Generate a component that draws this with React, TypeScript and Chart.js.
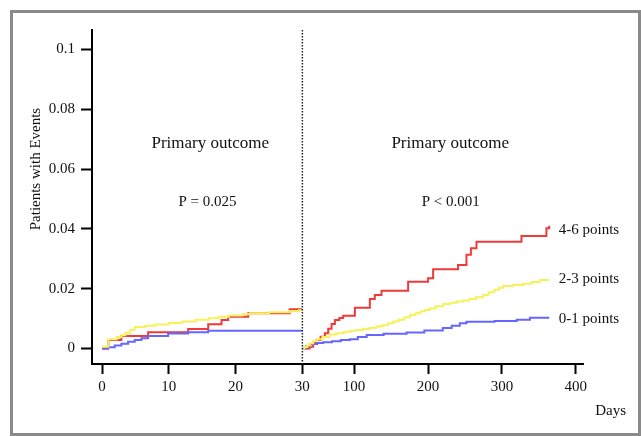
import React, { useEffect, useRef } from 'react';
import { Chart, registerables } from 'chart.js';

Chart.register(...registerables);

// ---- data (cumulative proportion of patients with events) ----
const groupLabels = ['4-6 points', '2-3 points', '0-1 points'];

// first 30 days
const early46Days = [0, 0.95, 2.9, 6.9, 12.9, 15.9, 17.9, 18.9, 21.9, 28.1, 30];
const early46 = [0, 0.0028, 0.0042, 0.0054, 0.0065, 0.0081, 0.0095, 0.0106, 0.0118, 0.0131, 0.0131];

const early23Days = [0, 0.95, 2.2, 2.9, 3.5, 4.2, 4.9, 6.5, 8, 10, 12, 14, 16, 17.5, 19, 21, 22.2, 25, 28.1, 29.5, 30];
const early23 = [0.0006, 0.0031, 0.0038, 0.0044, 0.0052, 0.0062, 0.0072, 0.0076, 0.008, 0.0085, 0.009, 0.0096, 0.0101, 0.0106, 0.011, 0.0114, 0.0118, 0.0121, 0.0125, 0.0128, 0.0128];

const early01Days = [0, 0.9, 1.9, 2.9, 3.9, 4.9, 5.9, 6.9, 9.9, 12.9, 15.9, 30];
const early01 = [0, 0.0004, 0.001, 0.0016, 0.0022, 0.0028, 0.0034, 0.0042, 0.005, 0.0054, 0.0059, 0.0059];

// day 30 to one year
const late46Days = [30, 40, 44.6, 49.2, 54.6, 60.4, 65, 69.5, 74, 80, 85.2, 101, 121.3, 128, 137.1, 173.1, 200.1, 206.9, 240.7, 252, 258, 265.6, 326.4, 360.2, 364];
const late46 = [0, 0.0006, 0.0017, 0.0028, 0.0039, 0.0051, 0.0066, 0.0082, 0.0095, 0.0102, 0.0109, 0.0136, 0.0165, 0.0179, 0.0193, 0.0223, 0.0235, 0.0265, 0.0279, 0.0313, 0.0335, 0.0357, 0.0376, 0.0402, 0.041];

const late23Days = [30, 33, 36, 40, 44.6, 50, 57, 67, 76, 86, 95, 103, 112, 121, 130, 138, 146, 153, 160, 168, 175.5, 183, 190, 196, 202.5, 210, 220.5, 230, 239, 247.6, 256, 265, 274.7, 282, 290, 296, 301.7, 315, 328.8, 340, 351.4, 364];
const late23 = [0, 0.0005, 0.001, 0.0017, 0.0025, 0.0031, 0.0038, 0.0047, 0.0051, 0.0056, 0.0059, 0.0062, 0.0065, 0.0068, 0.0073, 0.0078, 0.0084, 0.009, 0.0096, 0.0104, 0.0112, 0.0118, 0.0124, 0.0129, 0.0134, 0.0141, 0.0149, 0.0153, 0.0157, 0.016, 0.0165, 0.0171, 0.0179, 0.0188, 0.0196, 0.0203, 0.0209, 0.0212, 0.0216, 0.0222, 0.0229, 0.0229];

const late01Days = [30, 35, 40, 50, 58, 70, 82, 94.3, 105, 117, 140, 171, 195, 220, 232, 243, 252, 290, 320, 338, 364];
const late01 = [0, 0.0008, 0.0015, 0.0018, 0.0021, 0.0024, 0.0028, 0.0031, 0.0038, 0.0045, 0.0049, 0.0053, 0.006, 0.0068, 0.0076, 0.0084, 0.0089, 0.0092, 0.0096, 0.0103, 0.0103];

const yTicks = [0, 0.02, 0.04, 0.06, 0.08, 0.1];
const yTickLabels = ['0', '0.02', '0.04', '0.06', '0.08', '0.1'];
const earlyTicks = [0, 10, 20, 30];
const lateTicks = [100, 200, 300, 400];

const panelTitle = 'Primary outcome';
const pEarly = 'P = 0.025';
const pLate = 'P < 0.001';
const yTitle = 'Patients with Events';
const xTitle = 'Days';

const colors = ['#f03a3a', '#f7f25c', '#6666ff'];

export default function App() {
  const ref = useRef<HTMLCanvasElement>(null);

  useEffect(() => {
    const canvas = ref.current;
    if (!canvas) return;
    const serif = '"Liberation Serif", "Times New Roman", serif';

    const mk = (label: string, days: number[], vals: number[], color: string, axis: string) => ({
      label,
      data: days.map((d, i) => ({ x: d, y: vals[i] })),
      xAxisID: axis,
      yAxisID: 'y',
      borderColor: color,
      backgroundColor: color,
      borderWidth: 2,
      pointRadius: 0,
      pointHoverRadius: 0,
      stepped: true,
      fill: false,
    });

    const overlay = {
      id: 'overlay',
      afterDatasetsDraw(chart: any) {
        const { ctx, chartArea } = chart;
        const xL = chart.scales.xL;
        const xR = chart.scales.xR;
        const y = chart.scales.y;
        ctx.save();
        // dotted separator at day 30
        const sx = xL.getPixelForValue(30);
        ctx.strokeStyle = '#222';
        ctx.lineWidth = 1.5;
        ctx.setLineDash([1.5, 1.5]);
        ctx.beginPath();
        ctx.moveTo(sx, chartArea.top);
        ctx.lineTo(sx, chartArea.bottom);
        ctx.stroke();
        ctx.setLineDash([]);

        ctx.fillStyle = '#111';
        ctx.textBaseline = 'middle';
        ctx.textAlign = 'center';
        ctx.font = `17px ${serif}`;
        ctx.fillText(panelTitle, xL.getPixelForValue(16.2), y.getPixelForValue(0.0686));
        ctx.fillText(panelTitle, xR.getPixelForValue(230), y.getPixelForValue(0.0686));
        ctx.font = `15px ${serif}`;
        ctx.fillText(pEarly, xL.getPixelForValue(15.8), y.getPixelForValue(0.0491));
        ctx.fillText(pLate, xR.getPixelForValue(230.8), y.getPixelForValue(0.0491));

        // group labels
        ctx.textAlign = 'left';
        const labelY = [0.0396, 0.0232, 0.0099];
        groupLabels.forEach((g, i) => {
          ctx.fillText(g, xR.getPixelForValue(376.9), y.getPixelForValue(labelY[i]));
        });

        // axis titles
        ctx.textAlign = 'center';
        ctx.fillText(xTitle, xR.getPixelForValue(447), chartArea.bottom + 47);
        ctx.save();
        ctx.font = `15px ${serif}`;
        ctx.translate(chartArea.left - 56, y.getPixelForValue(0.06));
        ctx.rotate(-Math.PI / 2);
        ctx.fillText(yTitle, 0, 0);
        ctx.restore();
        ctx.restore();
      },
    };

    const tickFont = { family: serif, size: 15 };

    const chart = new Chart(canvas, {
      type: 'line',
      data: {
        datasets: [
          mk(groupLabels[1], early23Days, early23, colors[1], 'xL'),
          mk(groupLabels[2], early01Days, early01, colors[2], 'xL'),
          mk(groupLabels[0], early46Days, early46, colors[0], 'xL'),
          mk(groupLabels[1], late23Days, late23, colors[1], 'xR'),
          mk(groupLabels[2], late01Days, late01, colors[2], 'xR'),
          mk(groupLabels[0], late46Days, late46, colors[0], 'xR'),
        ] as any,
      },
      options: {
        responsive: false,
        animation: false,
        events: [],
        layout: { padding: { left: 0, top: 30, right: 58, bottom: 42 } },
        plugins: { legend: { display: false }, tooltip: { enabled: false }, title: { display: false } },
        scales: {
          xL: {
            type: 'linear',
            position: 'bottom',
            stack: 'days',
            stackWeight: 210.5,
            min: -1.5,
            max: 30,
            afterBuildTicks: (s: any) => { s.ticks = earlyTicks.map((v) => ({ value: v })); },
            afterFit: (s: any) => { s.height = 30; },
            border: { display: true, color: '#000', width: 2 },
            grid: { drawOnChartArea: false, drawTicks: true, tickLength: 10, tickWidth: 2, tickColor: '#000', color: '#000' },
            ticks: { font: tickFont, color: '#111', padding: 4, autoSkip: false, maxRotation: 0, minRotation: 0 },
          },
          xR: {
            type: 'linear',
            position: 'bottom',
            stack: 'days',
            stackWeight: 280.8,
            min: 30,
            max: 409.7,
            afterBuildTicks: (s: any) => { s.ticks = lateTicks.map((v) => ({ value: v })); },
            afterFit: (s: any) => { s.height = 30; },
            border: { display: true, color: '#000', width: 2 },
            grid: { drawOnChartArea: false, drawTicks: true, tickLength: 10, tickWidth: 2, tickColor: '#000', color: '#000' },
            ticks: { font: tickFont, color: '#111', padding: 4, autoSkip: false, maxRotation: 0, minRotation: 0 },
          },
          y: {
            type: 'linear',
            position: 'left',
            min: -0.0052,
            max: 0.1065,
            afterBuildTicks: (s: any) => { s.ticks = yTicks.map((v) => ({ value: v })); },
            afterFit: (s: any) => { s.width = 92; },
            border: { display: true, color: '#000', width: 2 },
            grid: { drawOnChartArea: false, drawTicks: true, tickLength: 11, tickWidth: 2, tickColor: '#000', color: '#000' },
            ticks: {
              font: tickFont,
              color: '#111',
              padding: 6,
              autoSkip: false,
              callback: (_v: any, i: number) => yTickLabels[i],
            },
          },
        },
      } as any,
      plugins: [overlay],
    });

    return () => chart.destroy();
  }, []);

  return (
    <div style={{ position: 'fixed', left: 0, top: 0, width: 641, height: 436, background: '#fff' }}>
      <div
        style={{
          position: 'absolute',
          left: 10,
          top: 10,
          width: 631,
          height: 426,
          boxSizing: 'border-box',
          border: '3px solid #8a8a8a',
        }}
      />
      <canvas
        ref={ref}
        width={641}
        height={436}
        style={{ position: 'absolute', left: 0, top: 0, width: 641, height: 436 }}
      />
    </div>
  );
}
